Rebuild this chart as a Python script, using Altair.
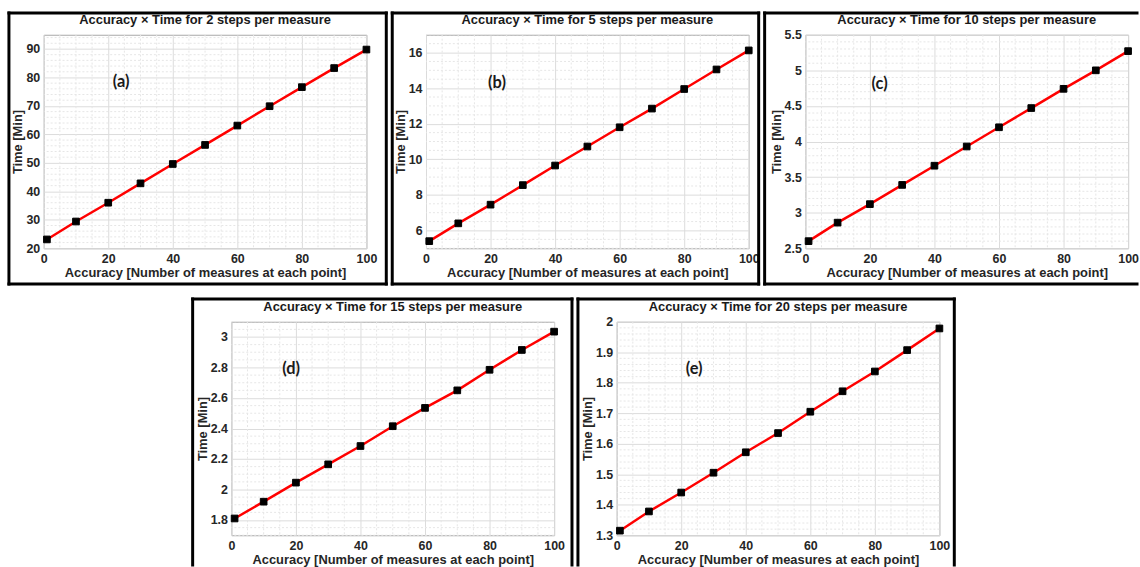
import altair as alt
import pandas as pd
import numpy as np

# ---------------- data ----------------
accuracy = [1, 10, 20, 30, 40, 50, 60, 70, 80, 90, 100]

time_2 = [23.1, 29.4, 36.0, 42.8, 49.6, 56.3, 63.1, 69.9, 76.6, 83.3, 89.8]
time_5 = [5.4, 6.4, 7.45, 8.55, 9.65, 10.72, 11.8, 12.85, 13.95, 15.05, 16.12]
time_10 = [2.6, 2.86, 3.12, 3.39, 3.66, 3.93, 4.2, 4.47, 4.74, 5.0, 5.27]
time_15 = [1.81, 1.92, 2.045, 2.165, 2.285, 2.415, 2.535, 2.65, 2.785, 2.915, 3.035]
time_20 = [1.315, 1.378, 1.44, 1.505, 1.572, 1.635, 1.705, 1.772, 1.837, 1.907, 1.978]

steps = [2, 5, 10, 15, 20]
panel_tags = ["(a)", "(b)", "(c)", "(d)", "(e)"]

x_ticks = [0, 20, 40, 60, 80, 100]
y_domains = [[20, 95], [5, 17], [2.5, 5.5], [1.7, 3.1], [1.3, 2.0]]
y_ticks = [
    [20, 30, 40, 50, 60, 70, 80, 90],
    [6, 8, 10, 12, 14, 16],
    [2.5, 3, 3.5, 4, 4.5, 5, 5.5],
    [1.8, 2.0, 2.2, 2.4, 2.6, 2.8, 3.0],
    [1.3, 1.4, 1.5, 1.6, 1.7, 1.8, 1.9, 2.0],
]
y_minor_steps = [2, 0.5, 0.1, 0.05, 0.02]

# tag label positions (data coordinates)
tag_x = [24, 22, 23, 18.5, 24]
tag_y = [78.3, 14.3, 4.81, 2.79, 1.845]

# frame around each panel, relative to its plot area: left, right, top, bottom, sides drawn
frames = [(-35, 345, -22, 251, "ltrb"), (-34, 335, -22, 251, "ltrb"), (-41, 334, -22, 251, "ltb"),
          (-39, 343, -23, 245, "ltr"), (-39, 340, -23, 245, "ltr")]

W, H = 325, 215
FONT = "Liberation Sans"
X_TITLE = "Accuracy [Number of measures at each point]"


def seg(x1, x2, y1, y2):
    return alt.Chart(pd.DataFrame({"f": [0]})).mark_rule(
        color="black", strokeWidth=3, strokeCap="square").encode(
        x=alt.value(x1), x2=alt.value(x2), y=alt.value(y1), y2=alt.value(y2))


def panel(i, series):
    df = pd.DataFrame({"x": accuracy, "y": series})
    ydom = y_domains[i]
    xs = alt.Scale(domain=[0, 100], nice=False, zero=False)
    ys = alt.Scale(domain=ydom, nice=False, zero=False)
    xax = alt.Axis(values=x_ticks, title=X_TITLE, titlePadding=2, labelFlush=False)
    yax = alt.Axis(values=y_ticks[i], title="Time [Min]", format=".2~f", titlePadding=1,
                   labelFlush=False)

    def X(f="x"):
        return alt.X(f + ":Q", scale=xs, axis=xax)

    def Y(f="y"):
        return alt.Y(f + ":Q", scale=ys, axis=yax)

    mx = [v for v in np.arange(0, 100.001, 5) if v not in x_ticks]
    step = y_minor_steps[i]
    my = [round(v, 4) for v in np.arange(ydom[0], ydom[1] + 1e-9, step)]
    my = [v for v in my if all(abs(v - t) > 1e-6 for t in y_ticks[i])]

    minor_x = alt.Chart(pd.DataFrame({"x": mx})).mark_rule(
        color="#e6e6e6", strokeWidth=1, strokeDash=[2, 2]).encode(x=X())
    minor_y = alt.Chart(pd.DataFrame({"y": my})).mark_rule(
        color="#e6e6e6", strokeWidth=1, strokeDash=[2, 2]).encode(y=Y())
    line = alt.Chart(df).mark_line(color="#ff0000", strokeWidth=2.5).encode(x=X(), y=Y())
    pts = alt.Chart(df).mark_square(size=45, color="black", opacity=1,
                                    stroke="black", strokeWidth=1).encode(x=X(), y=Y())
    tag = alt.Chart(pd.DataFrame({"x": [tag_x[i]], "y": [tag_y[i]], "t": [panel_tags[i]]})).mark_text(
        font="Lato", fontWeight="bold", fontSize=16.5, color="#1a1a1a").encode(
        x=X(), y=Y(), text="t:N")
    title = alt.Chart(pd.DataFrame({"t": [f"Accuracy \u00d7 Time for {steps[i]} steps per measure"]})).mark_text(
        font=FONT, fontSize=13, fontWeight="bold", color="#1a1a1a", baseline="bottom", align="center").encode(
        x=alt.value(W / 2), y=alt.value(-8), text="t:N")

    fl, fr, ft, fb, sides = frames[i]
    border = []
    if "l" in sides:
        border.append(seg(fl, fl, ft, fb))
    if "r" in sides:
        border.append(seg(fr, fr, ft, fb))
    if "t" in sides:
        border.append(seg(fl, fr, ft, ft))
    if "b" in sides:
        border.append(seg(fl, fr, fb, fb))

    return alt.layer(minor_x, minor_y, line, pts, tag, title, *border).properties(width=W, height=H)


series = [time_2, time_5, time_10, time_15, time_20]
panels = [panel(i, s) for i, s in enumerate(series)]

SPACER_W = 147
spacer = alt.Chart(pd.DataFrame({"f": [0]})).mark_rect(opacity=0).encode(
    x=alt.value(0), x2=alt.value(SPACER_W), y=alt.value(0), y2=alt.value(1)).properties(
    width=SPACER_W, height=1, view=alt.ViewBackground(stroke=None))

row1 = alt.hconcat(panels[0], panels[1], panels[2], spacing=0)
row2 = alt.hconcat(spacer, panels[3], panels[4], spacing=0)

chart = alt.vconcat(row1, row2, spacing=9).properties(
    padding={"left": 6, "top": 8, "right": 0, "bottom": 0},
    background="white",
).configure_view(
    stroke="#a8a8a8", strokeWidth=1
).configure_axis(
    labelFont=FONT, labelFontWeight="bold", labelFontSize=12.5, labelColor="#262626",
    titleFont=FONT, titleFontWeight="bold", titleFontSize=13, titleColor="#262626",
    gridColor="#dcdcdc", gridWidth=1, domain=False, ticks=False, labelPadding=4,
)

chart.save("out.html", embed_options={"renderer": "svg", "actions": False})
